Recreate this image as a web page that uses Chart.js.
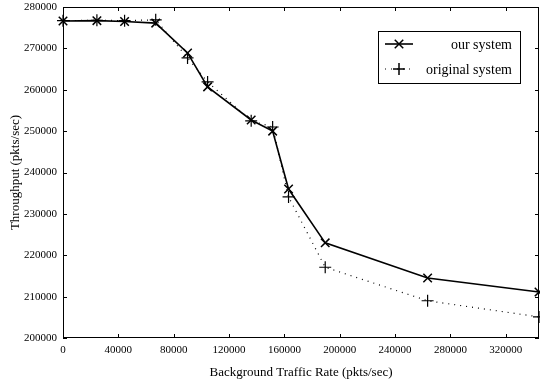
<!DOCTYPE html>
<html>
<head>
<meta charset="utf-8">
<script src="https://cdn.jsdelivr.net/npm/chart.js@4/dist/chart.umd.min.js"></script>
<style>
  html, body { margin: 0; padding: 0; background: #fff; }
  #wrap { width: 540px; height: 383px; }
</style>
</head>
<body>
<div id="wrap"><canvas id="chart"></canvas></div>
<script>
// values
const bgRates = [0, 24500, 44500, 67000, 90000, 104500, 136000, 151500, 163000, 189500, 263500, 344000];
const ourThroughput = [276600, 276700, 276500, 276100, 268900, 260700, 252700, 250000, 236000, 223000, 214500, 211100];
const origThroughput = [276700, 276800, 276700, 276900, 267700, 261900, 252500, 251000, 234100, 217100, 209000, 205100];
const seriesNames = ['our system', 'original system'];
const xTicks = [0, 40000, 80000, 120000, 160000, 200000, 240000, 280000, 320000];
const yTicks = [200000, 210000, 220000, 230000, 240000, 250000, 260000, 270000, 280000];

const serif = '"Liberation Serif", "DejaVu Serif", serif';

// gnuplot-style frame with inward ticks on all four sides
const framePlugin = {
    id: 'frame',
    afterDraw(chart) {
        const { ctx, chartArea: a, scales } = chart;
        ctx.save();
        ctx.strokeStyle = '#000';
        ctx.lineWidth = 1;
        ctx.strokeRect(a.left + 0.5, a.top + 0.5, a.right - a.left - 1, a.bottom - a.top - 1);
        const len = 4;
        ctx.beginPath();
        scales.x.ticks.forEach(t => {
            const px = Math.round(scales.x.getPixelForValue(t.value)) + 0.5;
            ctx.moveTo(px, a.bottom); ctx.lineTo(px, a.bottom - len);
            ctx.moveTo(px, a.top); ctx.lineTo(px, a.top + len);
        });
        scales.y.ticks.forEach(t => {
            const py = Math.round(scales.y.getPixelForValue(t.value)) + 0.5;
            ctx.moveTo(a.left, py); ctx.lineTo(a.left + len, py);
            ctx.moveTo(a.right, py); ctx.lineTo(a.right - len, py);
        });
        ctx.stroke();
        ctx.restore();
    }
};

// boxed key in the upper right, text right-aligned like gnuplot
const keyPlugin = {
    id: 'key',
    afterDraw(chart) {
        const { ctx, chartArea: a } = chart;
        const boxL = a.right - 161, boxT = a.top + 24, boxW = 142, boxH = 52;
        ctx.save();
        ctx.strokeStyle = '#000';
        ctx.lineWidth = 1;
        ctx.strokeRect(boxL + 0.5, boxT + 0.5, boxW, boxH);
        ctx.font = '14px ' + serif;
        ctx.fillStyle = '#000';
        ctx.textAlign = 'right';
        ctx.textBaseline = 'middle';
        chart.data.datasets.forEach((ds, i) => {
            const y = boxT + 13 + i * 25;
            ctx.beginPath();
            ctx.setLineDash(ds.borderDash || []);
            ctx.lineWidth = ds.borderWidth;
            ctx.moveTo(boxL + 7, y);
            ctx.lineTo(boxL + 35, y);
            ctx.stroke();
            ctx.setLineDash([]);
            ctx.lineWidth = 1.5;
            Chart.helpers.drawPoint(ctx, { pointStyle: ds.pointStyle, radius: 6, borderWidth: 1.5 }, boxL + 21, y);
            ctx.fillText(ds.label, boxL + boxW - 8, y + 1);
        });
        ctx.restore();
    }
};

new Chart(document.getElementById('chart').getContext('2d'), {
    type: 'line',
    data: {
        datasets: [{
            label: seriesNames[0],
            data: bgRates.map((x, i) => ({ x: x, y: ourThroughput[i] })),
            borderColor: '#000',
            backgroundColor: '#000',
            borderWidth: 1.6,
            pointStyle: 'crossRot',
            pointRadius: 6,
            pointBorderWidth: 1.5,
            tension: 0
        }, {
            label: seriesNames[1],
            data: bgRates.map((x, i) => ({ x: x, y: origThroughput[i] })),
            borderColor: '#000',
            backgroundColor: '#000',
            borderWidth: 1.2,
            borderDash: [1, 5],
            pointStyle: 'cross',
            pointRadius: 6,
            pointBorderWidth: 1.2,
            tension: 0
        }]
    },
    options: {
        responsive: true,
        maintainAspectRatio: false,
        animation: false,
        clip: false,
        layout: { autoPadding: false, padding: { top: 7, right: 1, left: 0, bottom: 0 } },
        plugins: { legend: { display: false }, tooltip: { enabled: false } },
        scales: {
            x: {
                type: 'linear',
                min: 0,
                max: 344000,
                grid: { display: false, drawTicks: false },
                border: { display: false },
                afterBuildTicks(scale) { scale.ticks = xTicks.map(v => ({ value: v })); },
                ticks: { padding: 6, color: '#000', maxRotation: 0, autoSkip: false,
                    callback: v => String(v),
                    font: { family: serif, size: 11 } },
                title: { display: true, text: 'Background Traffic Rate (pkts/sec)', color: '#000',
                    font: { family: serif, size: 13 }, padding: { top: 1, bottom: 3 } },
                afterFit(scale) {
                    scale.height = 45;
                    scale.paddingLeft = 0;
                    scale.paddingRight = 0;
                }
            },
            y: {
                min: 200000,
                max: 280000,
                grid: { display: false, drawTicks: false },
                border: { display: false },
                afterBuildTicks(scale) { scale.ticks = yTicks.map(v => ({ value: v })); },
                ticks: { padding: 6, color: '#000', callback: v => String(v),
                    font: { family: serif, size: 11 } },
                title: { display: true, text: 'Throughput (pkts/sec)', color: '#000',
                    font: { family: serif, size: 13 }, padding: { top: 8, bottom: 2 } },
                afterFit(scale) {
                    scale.width = 63;
                    scale.paddingTop = 0;
                    scale.paddingBottom = 0;
                }
            }
        }
    },
    plugins: [framePlugin, keyPlugin]
});
</script>
</body>
</html>
